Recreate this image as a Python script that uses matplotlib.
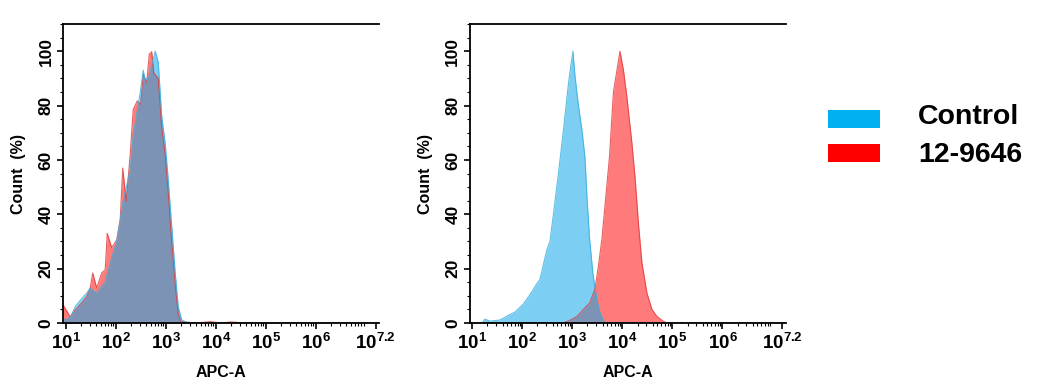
import matplotlib
matplotlib.use("Agg")
import matplotlib.pyplot as plt
import numpy as np
from matplotlib.patches import Rectangle
from matplotlib.ticker import FixedLocator, FixedFormatter, MultipleLocator

plt.rcParams['font.family'] = ['Liberation Sans', 'DejaVu Sans']
plt.rcParams['mathtext.fontset'] = 'custom'
plt.rcParams['mathtext.rm'] = 'Liberation Sans:bold'
plt.rcParams['mathtext.bf'] = 'Liberation Sans:bold'

# ---- data (x as log10 of APC-A intensity, y as Count %) ----
left_ctrl_logx = [0.95, 1.09, 1.19, 1.32, 1.42, 1.49, 1.54, 1.62, 1.72, 1.79, 1.83, 1.92, 2.02,
                  2.14, 2.29, 2.35, 2.43, 2.50, 2.55, 2.59, 2.62, 2.67, 2.72, 2.79, 2.85, 2.92,
                  2.99, 3.05, 3.12, 3.19, 3.25, 3.32, 3.42, 3.60, 7.27]
left_ctrl_y = [1.0, 2.0, 6.0, 9.0, 11.0, 12.9, 12.0, 11.0, 13.5, 15.0, 18.0, 24.0, 30.0,
               44.0, 56.5, 69.0, 78.0, 86.0, 93.0, 89.0, 90.0, 91.0, 95.0, 100.0, 96.0, 76.0,
               66.0, 52.8, 35.5, 18.4, 6.0, 1.1, 0.3, 0.0, 0.0]

left_samp_logx = [0.95, 1.09, 1.19, 1.32, 1.42, 1.49, 1.54, 1.62, 1.72, 1.79, 1.83, 1.92, 2.02,
                  2.09, 2.14, 2.21, 2.29, 2.35, 2.43, 2.50, 2.55, 2.62, 2.67, 2.72, 2.76, 2.85,
                  2.92, 2.99, 3.05, 3.12, 3.19, 3.25, 3.30, 3.60, 3.90, 4.10, 4.30, 4.60, 7.27]
left_samp_y = [6.6, 2.3, 4.8, 7.4, 9.7, 12.9, 18.4, 12.9, 18.4, 19.6, 33.0, 27.7, 30.6,
               38.0, 57.0, 44.8, 62.0, 78.6, 81.7, 80.4, 91.5, 88.4, 98.9, 99.8, 92.0, 90.0,
               72.0, 62.0, 48.0, 30.0, 14.0, 3.5, 0.5, 0.0, 0.5, 0.0, 0.4, 0.0, 0.0]

right_ctrl_logx = [1.19, 1.25, 1.35, 1.55, 1.69, 1.85, 2.02, 2.19, 2.29, 2.35, 2.42, 2.49, 2.55,
                   2.62, 2.72, 2.82, 2.92, 2.97, 3.01, 3.05, 3.12, 3.19, 3.25, 3.29, 3.34, 3.41,
                   3.49, 3.55, 3.63, 3.70, 7.27]
right_ctrl_y = [0.0, 1.4, 0.7, 1.1, 2.5, 4.0, 7.0, 11.5, 14.5, 16.0, 21.6, 27.0, 30.0,
                40.0, 55.0, 71.0, 88.0, 95.0, 100.0, 91.0, 80.0, 71.0, 61.0, 46.5, 31.6, 18.0,
                8.5, 3.7, 0.6, 0.0, 0.0]

right_samp_logx = [0.95, 2.82, 2.95, 3.09, 3.22, 3.35, 3.45, 3.52, 3.59, 3.65, 3.74, 3.82, 3.89,
                   3.95, 4.02, 4.09, 4.19, 4.25, 4.32, 4.39, 4.49, 4.59, 4.69, 4.82, 4.90, 7.27]
right_samp_y = [0.0, 0.0, 1.0, 2.4, 5.0, 7.5, 12.5, 21.0, 31.0, 43.0, 61.0, 85.0, 93.0,
                100.0, 93.0, 83.0, 66.0, 54.0, 36.5, 22.0, 11.0, 5.0, 2.4, 0.6, 0.0, 0.0]

tick_exponents = [1, 2, 3, 4, 5, 6, 7.2]
tick_labels = [r'$\mathbf{10^{1}}$', r'$\mathbf{10^{2}}$', r'$\mathbf{10^{3}}$', r'$\mathbf{10^{4}}$',
               r'$\mathbf{10^{5}}$', r'$\mathbf{10^{6}}$', r'$\mathbf{10^{7.2}}$']
legend_names = ['Control', '12-9646']

blue_fill = '#10A8E8'
red_fill = '#FF0000'
legend_blue = '#00B0F0'
legend_red = '#FF0000'
blue_edge = '#3AAEDC'
red_edge = '#E03C3C'

fig = plt.figure(figsize=(10.5, 3.9), dpi=100)
W, H = 1050, 390


def make_ax(left_px):
    ax = fig.add_axes([left_px / W, (H - 323) / H, 316 / W, (323 - 24) / H])
    return ax


def style(ax):
    ax.set_xscale('log')
    ax.set_xlim(10 ** 0.952, 10 ** 7.27)
    ax.set_ylim(0, 110)
    ax.spines['right'].set_visible(False)
    for s in ['left', 'bottom', 'top']:
        ax.spines[s].set_linewidth(1.3)
        ax.spines[s].set_color('black')
    ax.xaxis.set_major_locator(FixedLocator([10 ** e for e in tick_exponents]))
    ax.xaxis.set_major_formatter(FixedFormatter(tick_labels))
    minors = []
    for d in range(1, 7):
        for m in range(2, 10):
            v = m * 10 ** d
            if v < 10 ** 7.27:
                minors.append(v)
    ax.xaxis.set_minor_locator(FixedLocator(minors))
    ax.xaxis.set_minor_formatter(FixedFormatter([''] * len(minors)))
    ax.yaxis.set_minor_locator(MultipleLocator(5))
    ax.set_yticks([0, 20, 40, 60, 80, 100])
    ax.set_yticklabels(['0', '20', '40', '60', '80', '100'], rotation=90, va='center',
                       fontsize=12.5, fontweight='bold')
    for lab in ax.get_xticklabels():
        lab.set_fontsize(13.5)
    ax.tick_params(axis='both', which='major', direction='out', length=4, width=1.2, pad=3)
    ax.tick_params(axis='both', which='minor', direction='out', length=2, width=0.8)
    ax.tick_params(top=False, right=False)
    ax.set_xlabel('APC-A', fontsize=11.5, fontweight='bold', labelpad=9)
    ax.set_ylabel('Count  (%)', fontsize=11.5, fontweight='bold', labelpad=9)


def draw(ax, cx, cy, sx, sy):
    xs = [10 ** v for v in sx]
    xc = [10 ** v for v in cx]
    ax.fill_between(xs, sy, 0, color=red_fill, alpha=0.52, linewidth=0)
    ax.plot(xs, sy, color=red_edge, linewidth=0.8, alpha=0.8)
    ax.fill_between(xc, cy, 0, color=blue_fill, alpha=0.55, linewidth=0)
    ax.plot(xc, cy, color=blue_edge, linewidth=0.8, alpha=0.8)


ax1 = make_ax(63.3)
draw(ax1, left_ctrl_logx, left_ctrl_y, left_samp_logx, left_samp_y)
style(ax1)

ax2 = make_ax(470)
draw(ax2, right_ctrl_logx, right_ctrl_y, right_samp_logx, right_samp_y)
style(ax2)

# legend
fig.add_artist(Rectangle((828 / W, 1 - 128 / H), 52 / W, 18 / H, transform=fig.transFigure,
                         facecolor=legend_blue, edgecolor='none'))
fig.add_artist(Rectangle((828 / W, 1 - 162 / H), 52 / W, 18 / H, transform=fig.transFigure,
                         facecolor=legend_red, edgecolor='none'))
fig.text(918 / W, 1 - 117 / H, legend_names[0], fontsize=20.5, fontweight='bold', va='center', ha='left')
fig.text(918 / W, 1 - 155 / H, legend_names[1], fontsize=20.5, fontweight='bold', va='center', ha='left')

fig.savefig('out.png', dpi=100, facecolor='white')
